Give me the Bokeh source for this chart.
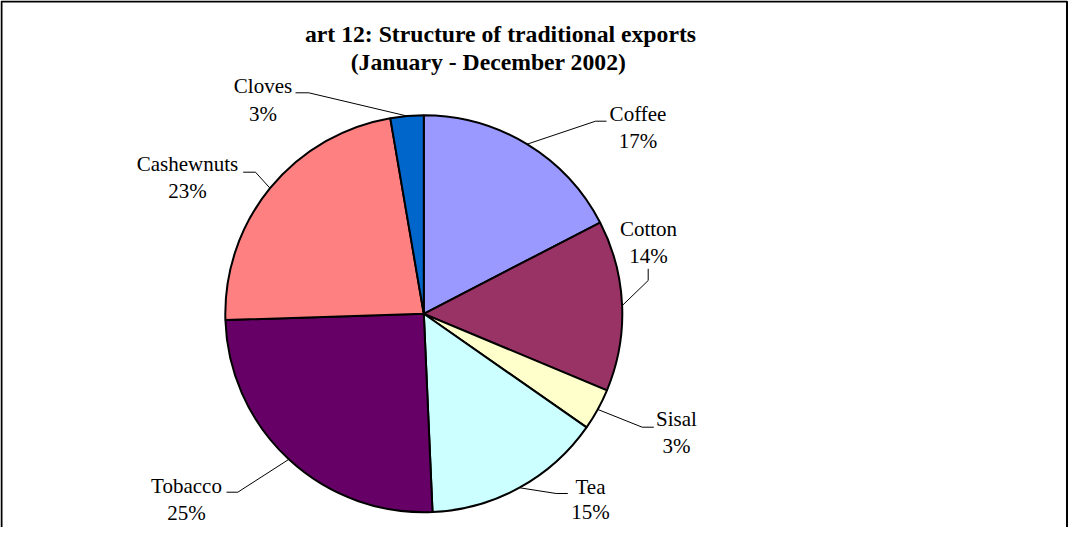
import math
from bokeh.plotting import figure
from bokeh.models import Range1d, ColumnDataSource
from bokeh.core.properties import value
from bokeh.embed import file_html
from bokeh.resources import INLINE

# ---- data ----
categories = ["Coffee", "Cotton", "Sisal", "Tea", "Tobacco", "Cashewnuts", "Cloves"]
shares = [17.4, 13.9, 3.4, 14.6, 25.2, 22.8, 2.7]
colors = ["#9999FF", "#993366", "#FFFFCC", "#CCFFFF", "#660066", "#FF8080", "#0066CC"]
title_lines = ["art 12: Structure of traditional exports", "(January - December 2002)"]

# ---- layout (picture pixel coordinates, y down) ----
W, H = 1068, 527
def X(px):
    return px
def Y(py):
    return H - py

CX, CY, R = 423.3, 313.3, 198.5
# label centre x, first-line baseline y, line gap, leader start, leader elbow
label_layout = {
    "Coffee":     (637.5, 113.3, 27.5, (606.0, 120.7), (595.0, 120.7)),
    "Cotton":     (648.0, 228.3, 27.5, (647.7, 268.3), (647.7, 280.0)),
    "Sisal":      (676.0, 418.3, 27.5, (653.3, 426.7), (641.7, 426.7)),
    "Tea":        (590.0, 486.0, 25.0, (567.3, 493.0), (555.7, 493.0)),
    "Tobacco":    (186.0, 485.0, 27.5, (226.0, 491.7), (237.3, 491.7)),
    "Cashewnuts": (187.0, 163.3, 27.5, (242.7, 171.7), (255.0, 171.7)),
    "Cloves":     (262.5, 85.7, 27.5, (295.0, 92.3), (308.3, 92.3)),
}
title_layout = [(500, 33.0), (488, 61.5)]

p = figure(width=W, height=H, output_backend="svg", toolbar_location=None,
           x_range=Range1d(0, W), y_range=Range1d(0, H), min_border=0,
           background_fill_color="white", border_fill_color="white")
p.axis.visible = False
p.grid.visible = False
p.outline_line_color = None

total = sum(shares)
starts, ends, mids = [], [], []
cum = 0.0
for v in shares:
    a0 = math.pi / 2 - 2 * math.pi * cum / total
    cum += v
    a1 = math.pi / 2 - 2 * math.pi * cum / total
    starts.append(a0)
    ends.append(a1)
    mids.append((a0 + a1) / 2)

src = ColumnDataSource(dict(cat=categories, val=shares, start=starts, end=ends, color=colors))
p.wedge(x=X(CX), y=Y(CY), radius=R, start_angle="start", end_angle="end",
        direction="clock", fill_color="color", line_color="black", line_width=2,
        source=src)

# leader lines
xs, ys = [], []
for cat, m in zip(categories, mids):
    lx, lb, gap, s, e = label_layout[cat]
    ax = X(CX) + R * math.cos(m)
    ay = Y(CY) + R * math.sin(m)
    xs.append([X(s[0]), X(e[0]), ax])
    ys.append([Y(s[1]), Y(e[1]), ay])
p.multi_line(xs=xs, ys=ys, line_color="black", line_width=1)

# labels
tx, ty, tt = [], [], []
for cat, v in zip(categories, shares):
    lx, lb, gap, s, e = label_layout[cat]
    tx += [X(lx), X(lx)]
    ty += [Y(lb), Y(lb + gap)]
    tt += [cat, f"{round(v)}%"]
p.text(x=tx, y=ty, text=tt, text_font=value("Liberation Serif"), text_font_size="21px",
       text_align="center", text_baseline="alphabetic", text_color="black")

# title
p.text(x=[X(t[0]) for t in title_layout], y=[Y(t[1]) for t in title_layout], text=title_lines,
       text_font=value("Liberation Serif"), text_font_size="23.7px", text_font_style="bold",
       text_align="center", text_baseline="alphabetic", text_color="black")

# frame (left, top, right)
p.line(x=[1, 1, W - 1.5, W - 1.5], y=[0, H - 1, H - 1, 0], line_color="black", line_width=2)

open("out.html", "w").write(file_html(p, INLINE))
